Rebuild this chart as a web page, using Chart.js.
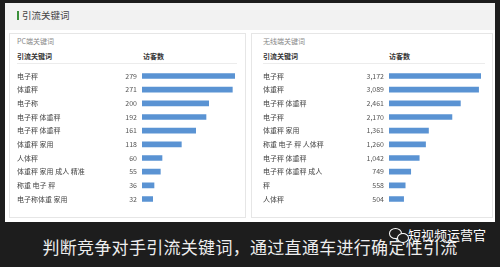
<!DOCTYPE html>
<html>
<head>
<meta charset="utf-8">
<script src="https://cdn.jsdelivr.net/npm/chart.js@4.4.0/dist/chart.umd.min.js"></script>
<style>
  html, body { margin: 0; padding: 0; }
  body {
    width: 500px; height: 267px; position: relative; overflow: hidden;
    background: #1d1d1d;
    font-family: "Noto Sans CJK SC", "Noto Sans", sans-serif;
  }
  .screen { position: absolute; left: 5px; top: 3px; width: 490px; height: 219px; background: #fff; }
  .topbar { position: absolute; left: 5px; top: 3px; width: 490px; height: 27px; background: #f2f2f2; }
  .greenmark { position: absolute; left: 17px; top: 11px; width: 2px; height: 9px; background: #3b8f3b; }
  .title { position: absolute; left: 22px; top: 8px; font-size: 9.5px; color: #444; line-height: 14px; }
  .panel { position: absolute; top: 33px; height: 185px; border: 1px solid #e6e6e6; box-sizing: border-box; }
  .sub { position: absolute; font-size: 7px; color: #888; line-height: 9px; }
  .hdr { position: absolute; font-size: 7px; color: #333; line-height: 9px; font-weight: bold; }
  .hline { position: absolute; height: 1px; background: #ececec; }
  canvas { position: absolute; }
  .caption {
    position: absolute; left: 0; width: 500px; top: 236px; text-align: center;
    font-size: 17px; color: #eee; line-height: 22px; letter-spacing: 0.3px;
  }
  .mark { position: absolute; left: 408px; top: 226px; font-size: 13px; color: #fff; line-height: 18px; }
  .wx1 { position: absolute; left: 389px; top: 228px; width: 11px; height: 9px; border-radius: 50%; border: 1.5px solid #fff; }
  .wx2 { position: absolute; left: 397px; top: 233px; width: 10px; height: 8px; border-radius: 50%; border: 1.5px solid #fff; background: #1d1d1d; }
</style>
</head>
<body>
<div class="screen"></div>
<div class="topbar"></div>
<div class="greenmark"></div>
<div class="title">引流关键词</div>

<div class="panel" style="left:9px;width:237px;"></div>
<div class="panel" style="left:251px;width:242px;"></div>

<div class="sub" style="left:17px;top:37px;">PC端关键词</div>
<div class="sub" style="left:263px;top:37px;">无线端关键词</div>

<div class="hdr" style="left:17px;top:52px;">引流关键词</div>
<div class="hdr" style="left:143px;top:52px;">访客数</div>
<div class="hline" style="left:17px;top:63px;width:220px;"></div>
<div class="hdr" style="left:263px;top:52px;">引流关键词</div>
<div class="hdr" style="left:389px;top:52px;">访客数</div>
<div class="hline" style="left:263px;top:63px;width:222px;"></div>

<canvas id="pc-chart" width="232" height="145" style="left:8px;top:65px;"></canvas>
<canvas id="wx-chart" width="232" height="145" style="left:254px;top:65px;"></canvas>

<div class="caption">判断竞争对手引流关键词，通过直通车进行确定性引流</div>
<div class="wx1"></div>
<div class="wx2"></div>
<div class="mark">短视频运营官</div>

<script>
// PC端关键词
const pcKeywords = ['电子秤', '体重秤', '电子称', '电子秤 体重秤', '电子秤 体重秤', '体重秤 家用', '人体秤', '体重秤 家用 成人 精准', '称重 电子 秤', '电子称体重 家用'];
const pcVisitors = [279, 271, 200, 192, 161, 118, 60, 55, 36, 32];

// 无线端关键词
const wxKeywords = ['电子秤', '体重秤', '电子秤 体重秤', '电子秤', '体重秤 家用', '称重 电子 秤 人体秤', '电子秤 体重秤', '电子秤 体重秤 成人', '秤', '人体秤'];
const wxVisitors = [3172, 3089, 2461, 2170, 1361, 1260, 1042, 749, 558, 504];

const barColor = '#5a93d3';
const fontFamily = '"Noto Sans CJK SC", "Noto Sans", sans-serif';

// value text to the left of each bar
const valueLabels = {
  id: 'valueLabels',
  afterDatasetsDraw(chart) {
    const ctx = chart.ctx;
    const meta = chart.getDatasetMeta(0);
    const values = chart.data.datasets[0].data;
    ctx.save();
    ctx.font = '7px ' + fontFamily;
    ctx.fillStyle = '#555';
    ctx.textAlign = 'right';
    ctx.textBaseline = 'middle';
    meta.data.forEach((bar, i) => {
      ctx.fillText(values[i].toLocaleString('en-US'), bar.base - 5, bar.y);
    });
    ctx.restore();
  }
};

function makeChart(el, labels, values, axisWidth) {
  return new Chart(el, {
    type: 'bar',
    data: {
      labels: labels,
      datasets: [{
        data: values,
        backgroundColor: barColor,
        barThickness: 5,
      }],
    },
    options: {
      indexAxis: 'y',
      responsive: false,
      animation: false,
      devicePixelRatio: 1,
      layout: { padding: { left: 9, right: 5, top: 0, bottom: 0 } },
      plugins: {
        legend: { display: false },
        tooltip: { enabled: false },
      },
      scales: {
        x: {
          display: false,
          min: 0,
          max: Math.max(...values),
        },
        y: {
          grid: { display: false },
          border: { display: false },
          ticks: {
            autoSkip: false,
            crossAlign: 'far',
            padding: 0,
            color: '#444',
            font: { size: 7, family: fontFamily },
          },
          afterFit: (scale) => { scale.width = axisWidth; },
        },
      },
    },
    plugins: [valueLabels],
  });
}

makeChart(document.getElementById('pc-chart'), pcKeywords, pcVisitors, 125);
makeChart(document.getElementById('wx-chart'), wxKeywords, wxVisitors, 126);
</script>
</body>
</html>
